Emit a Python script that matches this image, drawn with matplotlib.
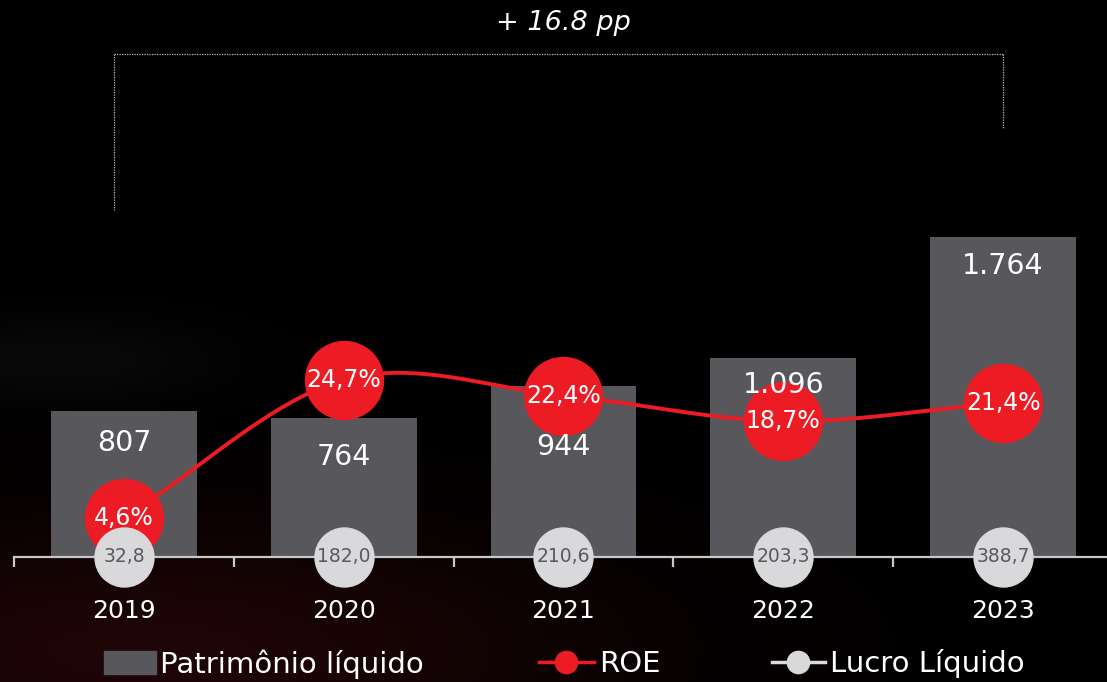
import numpy as np
import matplotlib.pyplot as plt
from matplotlib.patches import Patch
from matplotlib.lines import Line2D

years = ['2019', '2020', '2021', '2022', '2023']
patrimonio = [807, 764, 944, 1096, 1764]
patrimonio_labels = ['807', '764', '944', '1.096', '1.764']
roe = [4.6, 24.7, 22.4, 18.7, 21.4]
roe_labels = ['4,6%', '24,7%', '22,4%', '18,7%', '21,4%']
lucro_labels = ['32,8', '182,0', '210,6', '203,3', '388,7']

RED = '#ed1c24'
BAR = '#57575c'
LIGHT = '#d9d9db'

plt.rcParams['font.family'] = ['DejaVu Sans']


def catmull_rom(x, y, n=40):
    # smooth curve through the points
    p = np.column_stack([x, y]).astype(float)
    p = np.vstack([2 * p[0] - p[1], p, 2 * p[-1] - p[-2]])
    out = []
    t = np.linspace(0, 1, n)[:, None]
    for i in range(1, len(p) - 2):
        p0, p1, p2, p3 = p[i - 1], p[i], p[i + 1], p[i + 2]
        seg = 0.5 * ((2 * p1) + (-p0 + p2) * t + (2 * p0 - 5 * p1 + 4 * p2 - p3) * t ** 2
                     + (-p0 + 3 * p1 - 3 * p2 + p3) * t ** 3)
        out.append(seg)
    out = np.vstack(out)
    return out[:, 0], out[:, 1]


W, H = 1107, 682
fig = plt.figure(figsize=(W / 100, H / 100), dpi=100, facecolor='black')

# faint background glow
bg = fig.add_axes([0, 0, 1, 1], zorder=-10)
yy, xx = np.mgrid[0:H, 0:W]
glow = np.exp(-(((xx - 150) / 450) ** 2 + ((yy - 650) / 130) ** 2))
smoke = np.exp(-(((xx - 60) / 170) ** 2 + ((yy - 360) / 45) ** 2))
img = np.zeros((H, W, 3))
img[..., 0] = 0.12 * glow + 0.035 * smoke
img[..., 1] = 0.02 * glow + 0.035 * smoke
img[..., 2] = 0.025 * glow + 0.035 * smoke
bg.imshow(img, aspect='auto', extent=[0, W, H, 0])
bg.axis('off')

# main axes: baseline at 557 px from top
base = 557
ax = fig.add_axes([14 / W, (H - base) / H, 1 - 14 / W, base / H])
ax.set_facecolor('none')
px_per_unit = 0.1813
x = np.arange(len(years))
ax.set_xlim(-0.5, (W - 123) / 220)
ax.set_ylim(0, base / px_per_unit)

ax.bar(x, patrimonio, width=146 / 220, color=BAR, zorder=1)

for s in ['top', 'right', 'left']:
    ax.spines[s].set_visible(False)
ax.spines['bottom'].set_color('#c8c8c8')
ax.spines['bottom'].set_linewidth(1.6)
ax.set_yticks([])
ax.set_xticks(np.arange(-0.5, 4.5, 1))
ax.set_xticklabels([])
ax.tick_params(axis='x', direction='out', length=7, width=1.6, color='#c8c8c8')
ax.set_xticks(x, minor=True)
ax.set_xticklabels(years, minor=True, color='white', fontsize=18)
ax.tick_params(axis='x', which='minor', length=0, pad=30)

# ROE on a twin axis
ax2 = ax.twinx()
ax2.set_ylim(-(base - 549.6) / 6.87, 549.6 / 6.87)
ax2.axis('off')
sx, sy = catmull_rom(x, roe)
ax2.plot(sx, sy, color=RED, lw=2.8, zorder=3, solid_capstyle='round')
ax2.scatter(x, roe, s=(78 * 0.72) ** 2, color=RED, zorder=4)
for i, (v, lab) in enumerate(zip(roe, roe_labels)):
    ax2.text(i, v, lab, ha='center', va='center', color='white', fontsize=17, zorder=7)

# bar values (drawn on ax2 so they sit above the circles)
label_offsets = [32, 39, 61, 27, 29]  # px below bar top
for i, (v, lab) in enumerate(zip(patrimonio, patrimonio_labels)):
    ax2.annotate(lab, (i, v), xycoords=ax.transData, xytext=(0, -label_offsets[i] * 0.72),
                 textcoords='offset points', ha='center', va='center', color='white',
                 fontsize=20.5, zorder=6)

# lucro liquido circles on the baseline
y0 = ax2.get_ylim()[0]
ax2.scatter(x, [y0] * len(x), s=(59 * 0.72) ** 2, color=LIGHT, zorder=8, clip_on=False)
for i, lab in enumerate(lucro_labels):
    ax2.text(i, y0, lab, ha='center', va='center', color='#5a5a5e',
             fontsize=13.5, zorder=9, clip_on=False)

# bracket and title
dots = dict(color='#bbbbbb', lw=0.9, ls=(0, (1, 1)), transform=fig.transFigure)
fig.add_artist(Line2D([114 / W, 1003 / W], [1 - 54 / H, 1 - 54 / H], **dots))
fig.add_artist(Line2D([114 / W, 114 / W], [1 - 54 / H, 1 - 210 / H], **dots))
fig.add_artist(Line2D([1003 / W, 1003 / W], [1 - 54 / H, 1 - 129 / H], **dots))
fig.text(563 / W, 1 - 23 / H, '+ 16.8 pp', ha='center', va='center', color='white',
         fontsize=19.5, style='italic')

# legends
leg_kw = dict(frameon=False, labelcolor='white', fontsize=21, borderpad=0, borderaxespad=0,
              loc='center left')
fig.legend(handles=[Patch(color=BAR, label='Patrimônio líquido')], handlelength=1.78,
           handleheight=0.8, handletextpad=0.14, bbox_to_anchor=(104 / W, 1 - 664 / H), **leg_kw)
fig.legend(handles=[Line2D([], [], color=RED, lw=2.5, marker='o', markersize=16, label='ROE')],
           handlelength=1.88, handletextpad=0.17, bbox_to_anchor=(539 / W, 1 - 664 / H), **leg_kw)
fig.legend(handles=[Line2D([], [], color=LIGHT, lw=2.5, marker='o', markersize=16, label='Lucro Líquido')],
           handlelength=1.81, handletextpad=0.19, bbox_to_anchor=(772 / W, 1 - 664 / H), **leg_kw)

fig.savefig('out.png', dpi=100, facecolor='black')
